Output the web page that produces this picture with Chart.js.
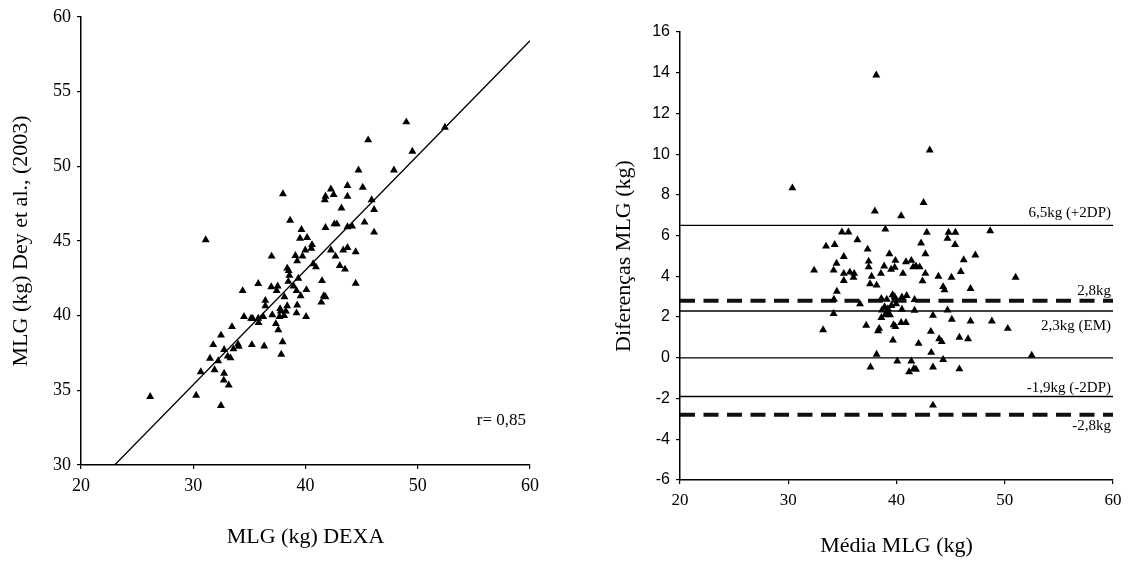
<!DOCTYPE html>
<html>
<head>
<meta charset="utf-8">
<script src="https://cdn.jsdelivr.net/npm/chart.js@4"></script>
<style>
  body { margin: 0; background: #fff; width: 1135px; height: 564px; overflow: hidden; position: relative; }
  canvas { position: absolute; top: 0; }
  #leftChart { left: 0; }
  #rightChart { left: 560px; }
</style>
</head>
<body>
<canvas id="leftChart" width="560" height="564"></canvas>
<canvas id="rightChart" width="575" height="564"></canvas>
<script>
// MLG DEXA vs Dey et al. (2003)
const dexaValues = [
  26.16, 30.26, 31.11, 32.47, 30.67, 31.78, 31.49, 31.90, 32.22, 32.47,
  32.75, 32.75, 32.72, 33.16, 33.07, 33.32, 33.45, 33.58, 33.99, 34.05,
  34.40, 34.52, 35.22, 35.15, 35.79, 35.82, 35.79, 36.32, 36.42, 36.42,
  36.23, 36.98, 36.95, 37.04, 37.43, 37.52, 37.36, 37.58, 37.74, 37.68,
  37.84, 37.96, 37.99, 38.12, 38.25, 38.47, 38.37, 38.56, 38.37, 38.63,
  38.94, 39.10, 39.26, 39.36, 39.20, 39.26, 39.20, 39.64, 39.51, 39.73,
  39.57, 39.98, 40.14, 40.08, 40.05, 40.52, 40.58, 40.68, 40.93, 41.47,
  41.41, 41.63, 41.78, 41.72, 41.78, 41.78, 42.26, 42.51, 42.26, 42.57,
  42.79, 42.67, 43.05, 43.20, 43.36, 43.52, 43.74, 43.74, 43.74, 43.74,
  44.15, 44.47, 44.47, 44.72, 45.10, 45.26, 45.58, 45.89, 46.11, 46.11,
  47.88, 48.98, 49.52, 52.42, 38.10, 37.80, 38.50, 35.30
];
const deyValues = [
  34.57, 34.66, 45.07, 33.97, 36.23, 38.05, 37.14, 36.37, 36.97, 38.68,
  37.72, 36.13, 35.67, 35.34, 37.28, 37.16, 39.25, 37.76, 38.08, 37.93,
  41.66, 39.93, 38.05, 39.81, 39.81, 39.52, 42.14, 37.96, 41.01, 40.65,
  39.93, 43.97, 41.92, 40.05, 41.66, 41.97, 39.45, 39.04, 40.46, 39.93,
  37.40, 38.24, 48.15, 41.25, 40.29, 42.28, 43.17, 42.69, 40.65, 46.37,
  41.97, 44.01, 43.65, 42.49, 41.66, 40.70, 40.17, 45.75, 45.17, 43.97,
  41.32, 44.38, 45.22, 41.73, 39.93, 44.50, 44.74, 43.46, 43.25, 42.33,
  40.89, 41.32, 41.25, 47.74, 47.98, 45.89, 48.46, 48.10, 44.38, 46.13,
  46.13, 43.97, 43.34, 47.19, 44.38, 43.10, 48.70, 47.98, 45.94, 44.55,
  45.99, 44.26, 42.16, 49.74, 48.58, 46.25, 51.75, 47.74, 47.09, 45.58,
  49.74, 52.96, 50.99, 52.60, 40.00, 40.30, 43.00, 39.80
];
const fitLineX = [23, 60];
const fitLineY = [30, 58.4];
const correlationText = "r= 0,85";

// Bland-Altman
const meanValues = [
  30.38, 38.13, 43.07, 42.50, 38.00, 40.43, 38.97, 34.96, 35.56, 42.80,
  44.81, 45.44, 48.65, 36.39, 42.27, 44.71, 45.41, 33.49, 34.29, 37.33,
  39.34, 42.67, 47.28, 35.13, 37.43, 39.90, 40.87, 41.37, 34.46, 46.21,
  37.43, 38.86, 39.83, 39.50, 41.54, 41.80, 42.14, 32.39, 34.19, 35.13,
  35.69, 36.09, 38.56, 40.60, 42.67, 45.94, 36.03, 37.70, 43.87, 45.08,
  51.00, 35.13, 42.40, 37.56, 38.16, 44.31, 44.44, 46.84, 34.49, 39.63,
  40.94, 39.83, 40.50, 38.60, 39.10, 34.22, 41.67, 36.63, 39.53, 39.97,
  38.90, 38.66, 39.20, 40.50, 41.67, 44.71, 34.19, 39.20, 38.93, 39.40,
  43.37, 38.60, 45.11, 46.84, 48.81, 40.43, 40.87, 37.20, 39.73, 39.90,
  50.28, 38.40, 33.22, 38.30, 43.17, 45.81, 46.61, 43.94, 44.18, 39.67,
  42.04, 43.21, 38.16, 52.49, 40.07, 41.37, 44.31, 37.60, 43.37, 45.81,
  41.60, 41.80, 41.17, 43.37
];
const diffValues = [
  8.34, 13.88, 10.20, 7.62, 7.20, 6.97, 6.31, 6.17, 6.17, 6.16,
  6.16, 6.16, 6.23, 5.79, 5.63, 5.86, 5.56, 5.48, 5.56, 5.33,
  5.10, 5.10, 5.04, 4.97, 4.74, 4.78, 4.71, 4.78, 4.64, 4.81,
  4.46, 4.50, 4.44, 4.34, 4.46, 4.51, 4.46, 4.30, 4.30, 4.14,
  4.20, 4.14, 4.14, 4.14, 4.14, 4.23, 3.95, 4.00, 4.00, 3.95,
  3.95, 3.79, 3.77, 3.63, 3.56, 3.49, 3.33, 3.40, 3.26, 3.09,
  3.05, 3.00, 2.98, 2.91, 2.87, 2.87, 2.86, 2.64, 2.56, 2.64,
  2.50, 2.34, 2.41, 2.38, 2.33, 2.34, 2.17, 2.20, 2.10, 2.10,
  2.08, 1.97, 1.89, 1.80, 1.80, 1.73, 1.73, 1.59, 1.62, 1.53,
  1.44, 1.44, 1.37, 1.32, 1.29, 1.00, 0.93, 0.93, 0.79, 0.86,
  0.70, 0.26, 0.17, 0.12, -0.16, -0.16, -0.09, -0.46, -0.46, -0.55,
  -0.53, -0.57, -0.69, -2.33
];
const refLineValues = [6.5, 2.8, 2.3, 0, -1.9, -2.8];
const refLineLabels = ["6,5kg (+2DP)", "2,8kg", "2,3kg (EM)", "", "-1,9kg (-2DP)", "-2,8kg"];
const refLineDashed = [false, true, false, false, false, true];

const serif = "'Liberation Serif', 'Times New Roman', serif";
const sans = "'Liberation Sans', Arial, sans-serif";

function toPoints(xs, ys) {
  return xs.map((x, i) => ({ x: x, y: ys[i] }));
}

function axisStyle(min, max, step, tickFont, title, titlePad, size) {
  return {
    type: "linear",
    min: min,
    max: max,
    ticks: { stepSize: step, color: "#000", font: tickFont, padding: 6 },
    grid: { display: true, drawOnChartArea: false, drawTicks: true, tickLength: 4, color: "#000", lineWidth: 1.2 },
    border: { display: true, color: "#000", width: 1.5 },
    title: { display: true, text: title, color: "#000", font: { family: serif, size: 22 }, padding: titlePad },
    afterFit: size
  };
}

// texto "r= 0,85"
const corrLabel = {
  id: "corrLabel",
  afterDraw(chart) {
    const ctx = chart.ctx;
    ctx.save();
    ctx.font = "17px " + serif;
    ctx.fillStyle = "#000";
    ctx.textAlign = "right";
    ctx.textBaseline = "middle";
    ctx.fillText(correlationText, chart.chartArea.right - 4, chart.scales.y.getPixelForValue(32.95));
    ctx.restore();
  }
};

const leftChart = new Chart(document.getElementById("leftChart").getContext("2d"), {
  type: "scatter",
  data: {
    datasets: [
      {
        data: toPoints(dexaValues, deyValues),
        pointStyle: "triangle",
        pointRadius: 4.6,
        backgroundColor: "#000",
        borderWidth: 0
      },
      {
        type: "line",
        data: toPoints(fitLineX, fitLineY),
        borderColor: "#000",
        borderWidth: 1.3,
        pointRadius: 0,
        fill: false
      }
    ]
  },
  options: {
    responsive: false,
    animation: false,
    layout: { padding: { top: 16, right: 30, left: 0, bottom: 0 } },
    plugins: { legend: { display: false }, tooltip: { enabled: false } },
    scales: {
      x: axisStyle(20, 60, 10, { family: serif, size: 18 }, "MLG (kg) DEXA", { top: 0, bottom: 14 }, (s) => { s.height = 99; }),
      y: axisStyle(30, 60, 5, { family: serif, size: 18 }, "MLG (kg) Dey et al., (2003)", { top: 8, bottom: 0 }, (s) => { s.width = 81; })
    }
  },
  plugins: [corrLabel]
});

// rótulos das linhas de referência
const refLabels = {
  id: "refLabels",
  afterDraw(chart) {
    const ctx = chart.ctx;
    const yScale = chart.scales.y;
    ctx.save();
    ctx.font = "15px " + serif;
    ctx.fillStyle = "#000";
    ctx.textAlign = "right";
    ctx.textBaseline = "middle";
    const offsets = [-12, -10, 15, 0, -8, 11];
    refLineValues.forEach((v, i) => {
      if (!refLineLabels[i]) return;
      ctx.fillText(refLineLabels[i], chart.chartArea.right - 2, yScale.getPixelForValue(v) + offsets[i]);
    });
    ctx.restore();
  }
};

const refDatasets = refLineValues.map((v, i) => ({
  type: "line",
  data: toPoints([20, 60], [v, v]),
  borderColor: refLineDashed[i] ? "#111" : "#000",
  borderWidth: refLineDashed[i] ? 4 : 1.3,
  borderDash: refLineDashed[i] ? [15, 8.5] : [],
  pointRadius: 0,
  fill: false
}));

const rightChart = new Chart(document.getElementById("rightChart").getContext("2d"), {
  type: "scatter",
  data: {
    datasets: [
      {
        data: toPoints(meanValues, diffValues),
        pointStyle: "triangle",
        pointRadius: 4.6,
        backgroundColor: "#000",
        borderWidth: 0
      }
    ].concat(refDatasets)
  },
  options: {
    responsive: false,
    animation: false,
    layout: { padding: { top: 32, right: 22, left: 0, bottom: 0 } },
    plugins: { legend: { display: false }, tooltip: { enabled: false } },
    scales: {
      x: axisStyle(20, 60, 10, { family: serif, size: 17 }, "Média MLG (kg)", { top: 0, bottom: 5 }, (s) => { s.height = 84; }),
      y: axisStyle(-6, 16, 2, { family: sans, size: 16 }, "Diferenças MLG (kg)", { top: 51, bottom: 0 }, (s) => { s.width = 120; })
    }
  },
  plugins: [refLabels]
});
</script>
</body>
</html>
